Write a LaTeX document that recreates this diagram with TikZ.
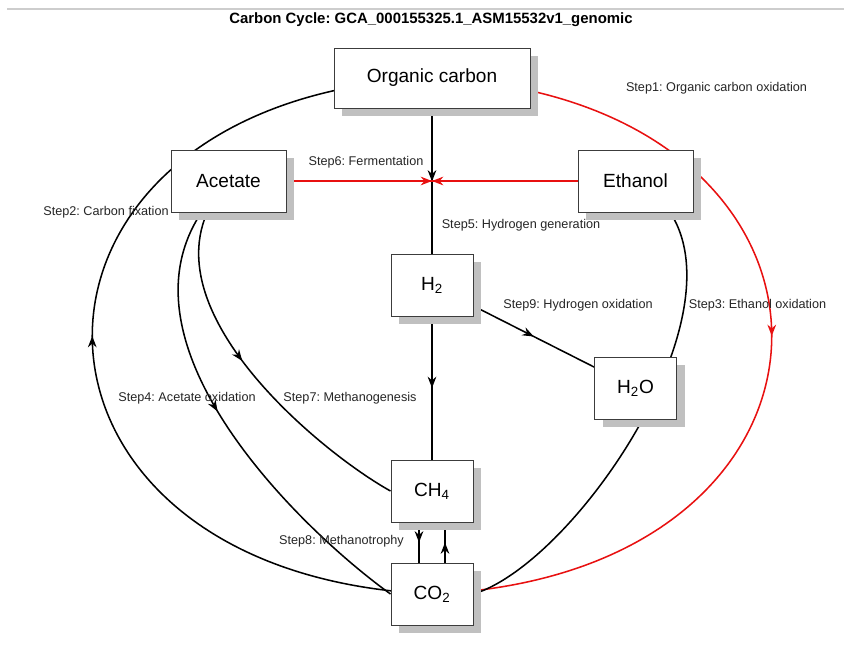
\documentclass[tikz,border=0pt]{standalone}
\usepackage{fontspec}
\setmainfont{Liberation Sans}
\usetikzlibrary{arrows.meta,decorations.markings,shadows,backgrounds}
\definecolor{shadowgray}{RGB}{192,192,192}
\definecolor{boxborder}{RGB}{60,60,60}
\definecolor{edgered}{RGB}{232,16,16}
\definecolor{rulegray}{RGB}{205,205,205}
\frenchspacing
\begin{document}
\begin{tikzpicture}[x=0.75pt,y=-0.75pt,
  box/.style={draw=boxborder, line width=0.75pt, fill=white, inner sep=0pt,
    minimum width=61.5pt, minimum height=46.5pt,
    font=\fontsize{14.3}{16}\selectfont,
    drop shadow={shadow xshift=6pt, shadow yshift=-6pt, fill=shadowgray, opacity=1}},
  edge/.style={line width=1.15pt, postaction={decorate},
    decoration={markings, mark=at position 0.5 with {\arrow{Stealth[length=8.5pt,width=6.5pt,inset=2.8pt]}}}},
  rededge/.style={edge, color=edgered},
  lbl/.style={font=\fontsize{9.5}{11}\selectfont, inner sep=0pt, text=black!85}
]
\useasboundingbox (0,0) rectangle (844,650);

% title
\coordinate (rs) at (7,9);
\coordinate (re) at (844,9);
\draw[rulegray, line width=0.9pt] (rs) -- (re);
\node[font=\fontsize{11.2}{13}\selectfont\bfseries, inner sep=0pt] (title) at (431,19.5) {Carbon Cycle: GCA\_000155325.1\_ASM15532v1\_genomic};

% nodes
\node[box, minimum width=147pt, minimum height=45pt] (oc) at (432,78) {Organic carbon};
\node[box, minimum width=86.25pt] (ac) at (228.5,181) {Acetate};
\node[box, minimum width=86.25pt] (et) at (635.5,181) {Ethanol};
\node[box] (h2) at (432,285) {H\textsubscript{2}};
\node[box] (h2o) at (635.5,388) {H\textsubscript{2}O};
\node[box] (ch4) at (432,491) {CH\textsubscript{4}};
\node[box] (co2) at (432,594) {CO\textsubscript{2}};

% labels
\node[lbl] (l1) at (716.5,88) {Step1: Organic carbon oxidation};
\node[lbl] (l2) at (106,212) {Step2: Carbon fixation};
\node[lbl] (l3) at (757.5,305) {Step3: Ethanol oxidation};
\node[lbl] (l4) at (187,398) {Step4: Acetate oxidation};
\node[lbl] (l5) at (521,225) {Step5: Hydrogen generation};
\node[lbl] (l6) at (366,162) {Step6: Fermentation};
\node[lbl] (l7) at (350,398) {Step7: Methanogenesis};
\node[lbl] (l8) at (341.5,541) {Step8: Methanotrophy};
\node[lbl] (l9) at (578,305) {Step9: Hydrogen oxidation};

\begin{pgfonlayer}{background}
\fill[white] (0,0) rectangle (844,650);
% Step1
\draw[rededge] (oc.center) .. controls (885,98) and (885,574) .. (co2.center);
% Step2
\draw[edge] (co2.center) .. controls (-21,574) and (-21,98) .. (oc.center);
% Step3
\draw[edge] (et.center) .. controls (780,260) and (585,560) .. (co2.east);
% Step4
\draw[edge] (ac.center) .. controls (80,318) and (298,527.6) .. (co2.west);
% Step5
\draw[edge] (oc.center) -- (h2.center);
% Step6
\draw[rededge] (ac.center) -- (et.center);
\draw[rededge] (et.center) -- (ac.center);
% Step7
\draw[edge] (ac.center) .. controls (125,292) and (318,450.8) .. (ch4.west);
\draw[edge] (h2.center) -- (ch4.center);
% Step8
\draw[edge] ([xshift=-9.75pt]ch4.center) -- ([xshift=-9.75pt]co2.center);
\draw[edge] ([xshift=9.75pt]co2.center) -- ([xshift=9.75pt]ch4.center);
% Step9
\draw[edge] (h2.center) -- (h2o.center);
\end{pgfonlayer}
\end{tikzpicture}
\end{document}
